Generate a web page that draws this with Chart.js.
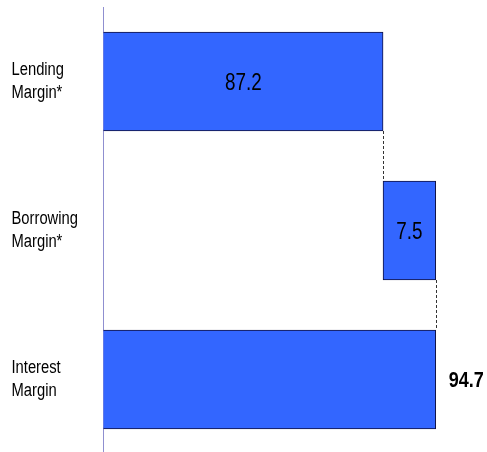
<!DOCTYPE html>
<html>
<head>
<meta charset="utf-8">
<script src="https://cdn.jsdelivr.net/npm/chart.js@4.4.1/dist/chart.umd.min.js"></script>
<style>
  html, body { margin: 0; padding: 0; background: #fff; overflow: hidden; }
  #wrap { width: 487px; height: 456px; }
</style>
</head>
<body>
<div id="wrap"><canvas id="chart" width="487" height="456"></canvas></div>
<script>
// datos
var categorias = [["Lending", "Margin*"], ["Borrowing", "Margin*"], ["Interest", "Margin"]];
var lendingMargin = 87.2;
var borrowingMargin = 7.5;
var interestMargin = 94.7;
var etiquetas = ["87.2", "7.5", "94.7"];

// barras flotantes (cascada)
var inicios = [0, lendingMargin, 0];
var finales = [lendingMargin, lendingMargin + borrowingMargin, interestMargin];
var rangos = inicios.map(function(v, i){ return [v, finales[i]]; });

var FUENTE = "'Liberation Sans', Arial, sans-serif";
var ANGOSTO = 0.82; // imitar Arial Narrow

function textoAngosto(ctx, txt, x, y){
  ctx.save();
  ctx.translate(x, y);
  ctx.scale(ANGOSTO, 1);
  ctx.fillText(txt, 0, 0);
  ctx.restore();
}

// etiquetas del eje, lineas punteadas y valores
var extras = {
  id: "extras",
  afterDatasetsDraw: function(chart){
    var ctx = chart.ctx;
    var bars = chart.getDatasetMeta(0).data;
    var yScale = chart.scales.y;
    ctx.save();

    // lineas punteadas entre barras
    ctx.strokeStyle = "#333";
    ctx.lineWidth = 1;
    ctx.setLineDash([3, 2]);
    for(var i = 0; i < bars.length - 1; i++){
      var a = bars[i], b = bars[i + 1];
      var x = Math.round(Math.max(a.x, a.base)) + 0.5;
      ctx.beginPath();
      ctx.moveTo(x, a.y + a.height / 2);
      ctx.lineTo(x, b.y - b.height / 2);
      ctx.stroke();
    }
    ctx.setLineDash([]);

    // categorias (eje y)
    ctx.fillStyle = "#000";
    ctx.textBaseline = "alphabetic";
    ctx.textAlign = "left";
    ctx.font = "18px " + FUENTE;
    categorias.forEach(function(lineas, i){
      var cy = yScale.getPixelForTick(i);
      textoAngosto(ctx, lineas[0], 11.5, cy - 6.5);
      textoAngosto(ctx, lineas[1], 11.5, cy + 16.5);
    });

    // valores
    ctx.textBaseline = "middle";
    bars.forEach(function(bar, i){
      var left = Math.max(Math.min(bar.x, bar.base), chart.chartArea.left);
      var right = Math.max(bar.x, bar.base);
      if(i === bars.length - 1){
        ctx.font = "bold 22px " + FUENTE;
        ctx.textAlign = "left";
        textoAngosto(ctx, etiquetas[i], right + 13, bar.y + 1);
      } else {
        ctx.font = "23px " + FUENTE;
        ctx.textAlign = "center";
        textoAngosto(ctx, etiquetas[i], (left + right) / 2, bar.y + 2);
      }
    });
    ctx.restore();
  }
};

new Chart(document.getElementById("chart"), {
  type: "bar",
  data: {
    labels: categorias,
    datasets: [{
      data: rangos,
      backgroundColor: "#3366FF",
      borderColor: "#101040",
      borderWidth: 1,
      borderSkipped: false,
      barThickness: 99,
      clip: { left: 0, top: false, right: false, bottom: false }
    }]
  },
  options: {
    indexAxis: "y",
    responsive: false,
    animation: false,
    layout: { padding: { left: 0, top: 7, bottom: 2, right: 0 } },
    plugins: { legend: { display: false }, tooltip: { enabled: false } },
    scales: {
      x: { display: false, min: 47.4, max: 102 },
      y: {
        grid: { display: false },
        border: { display: true, color: "#8f8fd0", width: 1 },
        ticks: { display: false },
        afterFit: function(scale){
          scale.width = 103.5;
          scale.paddingTop = 0;
          scale.paddingBottom = 0;
        }
      }
    }
  },
  plugins: [extras]
});
</script>
</body>
</html>
